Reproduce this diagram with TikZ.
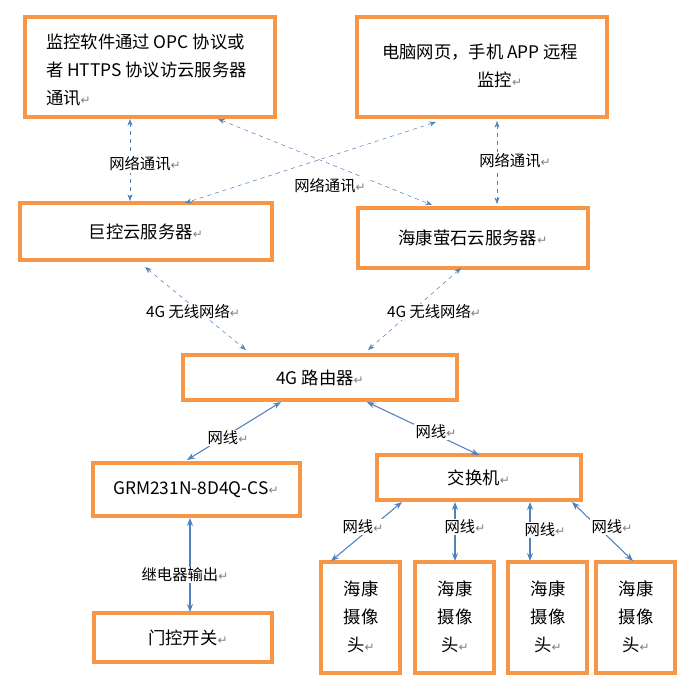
\documentclass[tikz,border=0pt]{standalone}
\usepackage{fontspec}
\setmainfont{Noto Sans CJK SC}
\newfontfamily\retfont{DejaVu Sans}
\usetikzlibrary{arrows.meta}
\definecolor{boxorange}{HTML}{F79646}
\definecolor{lineblue}{HTML}{4F81BD}
\newcommand{\ret}{{\retfont\color{gray}\small ↵}}
\tikzset{
  box/.style={draw=boxorange, line width=2.4pt, inner sep=0pt},
  net/.style={draw=lineblue, dashed, {Stealth[length=5pt]}-{Stealth[length=5pt]}},
  wire/.style={draw=lineblue, thick, {Stealth[length=6pt]}-{Stealth[length=6pt]}},
  lbl/.style={font=\fontsize{11.5}{13}\selectfont, fill=white, inner sep=1pt}
}
\begin{document}
\begin{tikzpicture}[x=0.75pt,y=-0.75pt]
\useasboundingbox (0,0) rectangle (689,683);
\fontsize{13}{21}\selectfont
% boxes
\draw[box] (25,17) rectangle (275,117);
\node[anchor=north west, align=left] (soft) at (40,28) {监控软件通过 OPC 协议或\\者 HTTPS 协议访云服务器\\通讯\ret};
\draw[box] (357,17) rectangle (607,117);
\node[anchor=north west, align=left] (web) at (376,38) {电脑网页，手机 APP 远程\\\hspace{5.5em}监控\ret};
\draw[box] (20,203) rectangle (272,260);
\node (jk) at (146,232) {巨控云服务器\ret};
\draw[box] (358,208) rectangle (588,268);
\node (hk) at (473,238) {海康萤石云服务器\ret};
\draw[box] (183,355) rectangle (457,400);
\node (rt) at (320,378) {4G 路由器\ret};
\draw[box] (93,463) rectangle (300,516);
\node (grm) at (196,490) {GRM231N-8D4Q-CS\ret};
\draw[box] (377,455) rectangle (581,500);
\node (sw) at (479,478) {交换机\ret};
\draw[box] (94,613) rectangle (272,662);
\node (door) at (188,638) {门控开关\ret};
\foreach \x/\n in {321/c1,415/c2,508/c3,596/c4}{
  \draw[box] (\x,562) rectangle ++(79,111);
  \node[align=center] (\n) at (\x+40,617) {海康\\摄像\\头\ret};
}
% connector ends
\coordinate (s1) at (130,119); \coordinate (s2) at (130,201);
\coordinate (w1) at (497,121); \coordinate (w2) at (497,204);
\coordinate (x1) at (218,119); \coordinate (x2) at (432,205);
\coordinate (y1) at (436,122); \coordinate (y2) at (185,203);
\coordinate (g1) at (145,267); \coordinate (g2) at (246,350);
\coordinate (h1) at (461,268); \coordinate (h2) at (368,350);
\coordinate (r1) at (281,402); \coordinate (r2) at (187,460);
\coordinate (r3) at (367,402); \coordinate (r4) at (479,455);
\coordinate (d1) at (190,518); \coordinate (d2) at (190,612);
\coordinate (k1) at (402,502); \coordinate (k2) at (331,561);
\coordinate (k3) at (455,502); \coordinate (k4) at (455,561);
\coordinate (k5) at (530,502); \coordinate (k6) at (530,561);
\coordinate (k7) at (572,502); \coordinate (k8) at (633,561);
% connectors
\draw[net] (s1) -- (s2);
\draw[net] (w1) -- (w2);
\draw[net] (x1) -- (x2);
\draw[net] (y1) -- (y2);
\draw[net] (g1) -- (g2);
\draw[net] (h1) -- (h2);
\draw[wire] (r1) -- (r2);
\draw[wire] (r3) -- (r4);
\draw[wire] (d1) -- (d2);
\draw[wire] (k1) -- (k2);
\draw[wire] (k3) -- (k4);
\draw[wire] (k5) -- (k6);
\draw[wire] (k7) -- (k8);
% labels
\node[lbl] (l1) at (145,164) {网络通讯\ret};
\node[lbl] (l2) at (515,161) {网络通讯\ret};
\node[lbl] (l3) at (330,186) {网络通讯\ret};
\node[lbl] (l4) at (193,312) {4G 无线网络\ret};
\node[lbl] (l5) at (434,312) {4G 无线网络\ret};
\node[lbl] (l6) at (228,438) {网线\ret};
\node[lbl] (l7) at (436,432) {网线\ret};
\node[lbl] (l8) at (185,575) {继电器输出\ret};
\node[lbl] (l9) at (363,527) {网线\ret};
\node[lbl] (l10) at (465,527) {网线\ret};
\node[lbl] (l11) at (545,530) {网线\ret};
\node[lbl] (l12) at (612,527) {网线\ret};
\end{tikzpicture}
\end{document}
